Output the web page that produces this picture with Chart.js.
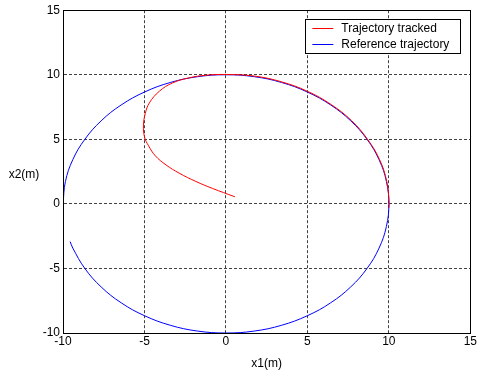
<!DOCTYPE html>
<html>
<head>
<meta charset="utf-8">
<script src="https://cdn.jsdelivr.net/npm/chart.js@4"></script>
<style>
  html, body { margin: 0; padding: 0; background: #fff; }
  #wrap { width: 478px; height: 376px; }
</style>
</head>
<body>
<div id="wrap"><canvas id="traj" width="478" height="376"></canvas></div>
<script>
// Tracked trajectory (red)
const trackX = [0.55, -0.83, -1.85, -2.87, -3.68, -4.33, -4.75, -5.0, -5.06, -4.95, -4.70, -4.09, -3.27, -2.26, -1.24, 0,
  1.74, 3.42, 5.0, 6.45, 7.7, 8.68, 9.43, 9.87, 10.02, 10.0];
const trackY = [0.55, 1.2, 1.74, 2.38, 3.02, 3.72, 4.5, 5.2, 6.1, 7.0, 7.82, 8.72, 9.37, 9.76, 9.96, 10.02,
  9.9, 9.45, 8.72, 7.7, 6.46, 5.02, 3.43, 1.74, 0, -0.3];

// Reference trajectory (blue)
const refX = [-10, -9.85, -9.40, -8.66, -7.66, -6.43, -5.00, -3.42, -1.74, 0, 1.74, 3.42, 5.00, 6.43, 7.66, 8.66, 9.40, 9.85,
  10, 9.85, 9.40, 8.66, 7.66, 6.43, 5.00, 3.42, 1.74, 0, -1.74, -3.42, -5.00, -6.43, -7.66, -8.66, -9.40, -9.56];
const refY = [0, 1.74, 3.42, 5.00, 6.43, 7.66, 8.66, 9.40, 9.85, 10, 9.85, 9.40, 8.66, 7.66, 6.43, 5.00, 3.42, 1.74,
  0, -1.74, -3.42, -5.00, -6.43, -7.66, -8.66, -9.40, -9.85, -10, -9.85, -9.40, -8.66, -7.66, -6.43, -5.00, -3.42, -2.92];

const xTicks = [-10, -5, 0, 5, 10, 15];
const yTicks = [-10, -5, 0, 5, 10, 15];

const FONT = "'Liberation Sans', Arial, sans-serif";

const toPoints = (xs, ys) => xs.map((x, i) => ({ x: x, y: ys[i] }));

// frame, y title and boxed legend, drawn MATLAB style
const matlabFrame = {
  id: "matlabFrame",
  afterDraw(chart) {
    const ctx = chart.ctx;
    const a = chart.chartArea;
    ctx.save();
    ctx.strokeStyle = "#000";
    ctx.lineWidth = 1;
    ctx.strokeRect(Math.round(a.left) + 0.5, Math.round(a.top) + 0.5,
      Math.round(a.right - a.left), Math.round(a.bottom - a.top));

    ctx.fillStyle = "#000";
    ctx.font = "12px " + FONT;
    ctx.textAlign = "center";
    ctx.textBaseline = "middle";
    ctx.fillText("x2(m)", 24, 175);

    // legend
    const bx = a.right - 165, by = a.top + 9, bw = 155, bh = 34;
    ctx.fillStyle = "#fff";
    ctx.fillRect(bx, by, bw, bh);
    ctx.strokeRect(Math.round(bx) + 0.5, Math.round(by) + 0.5, bw, bh);
    ctx.textAlign = "left";
    chart.data.datasets.forEach((ds, i) => {
      const ly = Math.round(by + 9 + i * 16) + 0.5;
      ctx.strokeStyle = ds.borderColor;
      ctx.beginPath();
      ctx.moveTo(bx + 7, ly);
      ctx.lineTo(bx + 28, ly);
      ctx.stroke();
      ctx.fillStyle = "#000";
      ctx.fillText(ds.label, bx + 36, ly);
    });
    ctx.restore();
  }
};

new Chart(document.getElementById("traj"), {
  type: "scatter",
  data: {
    datasets: [
      {
        label: "Trajectory tracked",
        data: toPoints(trackX, trackY),
        showLine: true,
        borderColor: "#ff0000",
        borderWidth: 1,
        pointRadius: 0,
        tension: 0.4,
      },
      {
        label: "Reference trajectory",
        data: toPoints(refX, refY),
        showLine: true,
        borderColor: "#0000ff",
        borderWidth: 1,
        pointRadius: 0,
        tension: 0.4,
      },
    ],
  },
  options: {
    responsive: false,
    animation: false,
    layout: { padding: { top: 10, right: 5, left: 0, bottom: 0 } },
    plugins: {
      legend: { display: false },
      tooltip: { enabled: false },
    },
    scales: {
      x: {
        type: "linear",
        min: -10,
        max: 15,
        afterBuildTicks: (s) => { s.ticks = xTicks.map((v) => ({ value: v })); },
        afterFit: (s) => { s.height = 43; },
        ticks: { color: "#000", font: { family: FONT, size: 12 }, padding: 1, maxRotation: 0 },
        grid: { color: "#404040", drawTicks: false },
        border: { color: "#000", dash: [3, 2] },
        title: { display: true, text: "x1(m)", color: "#000", font: { family: FONT, size: 12 }, padding: { bottom: 5 } },
      },
      y: {
        type: "linear",
        min: -10,
        max: 15,
        afterBuildTicks: (s) => { s.ticks = yTicks.map((v) => ({ value: v })); },
        afterFit: (s) => { s.width = 63; },
        ticks: { color: "#000", font: { family: FONT, size: 12 }, padding: 3 },
        grid: { color: "#404040", drawTicks: false },
        border: { color: "#000", dash: [3, 2] },
      },
    },
  },
  plugins: [matlabFrame],
});
</script>
</body>
</html>
